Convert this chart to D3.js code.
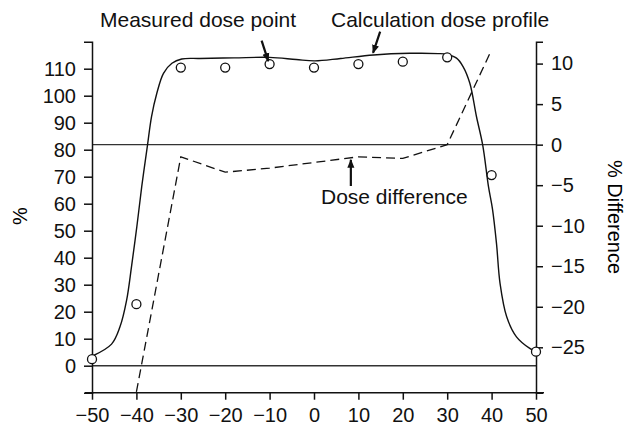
<!DOCTYPE html>
<html>
<head>
<meta charset="utf-8">
<script src="https://cdn.jsdelivr.net/npm/d3@7"></script>
<style>
  body { margin: 0; background: #fff; }
  svg { font-family: "Liberation Sans", Arial, sans-serif; }
</style>
</head>
<body>
<svg id="chart" width="636" height="427"></svg>
<script>
// measured points (position mm, dose %)
var measuredX = [-50, -40, -30, -20, -10, 0, 10, 20, 30, 40, 50];
var measuredY = [2.4, 22.8, 110.4, 110.4, 111.7, 110.4, 111.7, 112.6, 114.2, 70.6, 5.2];

// calculated profile
var profileX = [-50, -45.6, -43.7, -42.2, -41.1, -39.9, -38.8, -37.5, -36.6, -35.4, -33.9, -32, -29.8, -25.7, -18, -10, -4, 0.2, 6, 13.4, 21.6, 28, 29.9, 32.1, 33.6, 35.1, 36.6, 38, 39.3, 40.2, 41.1, 41.9, 43.4, 45.6, 48.6, 50];
var profileY = [3.5, 8, 14.4, 24.3, 36.7, 51.5, 66.3, 81.7, 92.2, 100.9, 108.3, 112, 113.6, 113.8, 114, 114.2, 113.4, 112.9, 113.8, 115.1, 115.7, 115.6, 115.3, 113.9, 110.7, 104.6, 92.2, 81.7, 66.3, 58, 45.3, 30.5, 18.1, 10.7, 6.4, 5.2];

// dose difference (right axis, %)
var diffX = [-40, -30, -20, -10, 0, 10, 20, 30, 40];
var diffY = [-30.5, -1.5, -3.4, -2.9, -2.2, -1.5, -1.7, 0, 11.7];

var xTicks = [-50, -40, -30, -20, -10, 0, 10, 20, 30, 40, 50];
var leftTicks = [0, 10, 20, 30, 40, 50, 60, 70, 80, 90, 100, 110];
var rightTicks = [10, 5, 0, -5, -10, -15, -20, -25];

var svg = d3.select("#chart");

var x = d3.scaleLinear().domain([-50, 50]).range([92, 536]);
var yL = d3.scaleLinear().domain([-10, 120]).range([392.7, 41.7]);
var yR = d3.scaleLinear().domain([-30.6, 12.7]).range([392.7, 41.7]);

// reference lines
svg.append("line")
    .attr("x1", x(-50)).attr("x2", x(50))
    .attr("y1", yR(0)).attr("y2", yR(0))
    .attr("stroke", "#333").attr("stroke-width", 1.4);
svg.append("line")
    .attr("x1", x(-50)).attr("x2", x(50))
    .attr("y1", yL(0)).attr("y2", yL(0))
    .attr("stroke", "#333").attr("stroke-width", 1.4);

// axes
var xAxis = svg.append("g")
    .attr("transform", "translate(0," + yL(-10) + ")")
    .call(d3.axisBottom(x).tickValues(xTicks).tickSize(7).tickSizeOuter(0).tickPadding(8));
xAxis.select(".domain").attr("d", "M85,0H544");

var leftAxis = svg.append("g")
    .attr("transform", "translate(" + x(-50) + ",0)")
    .call(d3.axisLeft(yL).tickValues(leftTicks).tickSize(8).tickSizeOuter(8).tickPadding(8));

var rightAxis = svg.append("g")
    .attr("transform", "translate(" + x(50) + ",0)")
    .call(d3.axisRight(yR).tickValues(rightTicks).tickSize(7).tickSizeOuter(7).tickPadding(8));

svg.selectAll(".domain, .tick line").attr("stroke", "#111").attr("stroke-width", 1.5);
svg.selectAll(".tick text")
    .attr("fill", "#111")
    .style("font-family", "'Liberation Sans', Arial, sans-serif")
    .style("font-size", "20px");

// axis titles
svg.append("text")
    .attr("transform", "translate(27,216) rotate(-90)")
    .attr("text-anchor", "middle")
    .style("font-size", "20px")
    .text("%");
svg.append("text")
    .attr("transform", "translate(608,217) rotate(90)")
    .attr("text-anchor", "middle")
    .style("font-size", "20px")
    .text("% Difference");

// calculated profile
var profile = d3.zip(profileX, profileY);
svg.append("path")
    .datum(profile)
    .attr("fill", "none")
    .attr("stroke", "#111")
    .attr("stroke-width", 1.4)
    .attr("d", d3.line()
        .x(function(d) { return x(d[0]); })
        .y(function(d) { return yL(d[1]); })
        .curve(d3.curveCatmullRom.alpha(0.5)));

// dose difference
var diff = d3.zip(diffX, diffY);
svg.append("path")
    .datum(diff)
    .attr("fill", "none")
    .attr("stroke", "#111")
    .attr("stroke-width", 1.3)
    .attr("stroke-dasharray", "9,5")
    .attr("d", d3.line()
        .x(function(d) { return x(d[0]); })
        .y(function(d) { return yR(d[1]); }));

// measured points
svg.selectAll("circle.pt")
    .data(d3.zip(measuredX, measuredY))
    .enter()
    .append("circle")
    .attr("class", "pt")
    .attr("cx", function(d) { return x(d[0]); })
    .attr("cy", function(d) { return yL(d[1]); })
    .attr("r", 4.5)
    .attr("fill", "#fff")
    .attr("stroke", "#111")
    .attr("stroke-width", 1.3);

// annotations
svg.append("defs").append("marker")
    .attr("id", "head")
    .attr("viewBox", "0 0 10 10")
    .attr("refX", 9).attr("refY", 5)
    .attr("markerWidth", 4).attr("markerHeight", 4)
    .attr("orient", "auto")
    .append("path")
    .attr("d", "M0,1L10,5L0,9z")
    .attr("fill", "#111");

function arrow(x1, y1, x2, y2) {
    svg.append("line")
        .attr("x1", x1).attr("y1", y1)
        .attr("x2", x2).attr("y2", y2)
        .attr("stroke", "#111")
        .attr("stroke-width", 2.2)
        .attr("marker-end", "url(#head)");
}

function label(tx, ty, s) {
    svg.append("text")
        .attr("x", tx).attr("y", ty)
        .style("font-size", "21px")
        .attr("fill", "#111")
        .text(s);
}

label(100, 26.5, "Measured dose point");
arrow(x(-11.8), 40.7, x(-10.3), yL(111.7) - 3);

label(331, 26.5, "Calculation dose profile");
arrow(x(14.9), 31.7, x(13.3), yL(115.1) - 2);

label(321, 204, "Dose difference");
arrow(x(8.3), 186, x(8.3), yR(-1.5) + 3);
</script>
</body>
</html>
